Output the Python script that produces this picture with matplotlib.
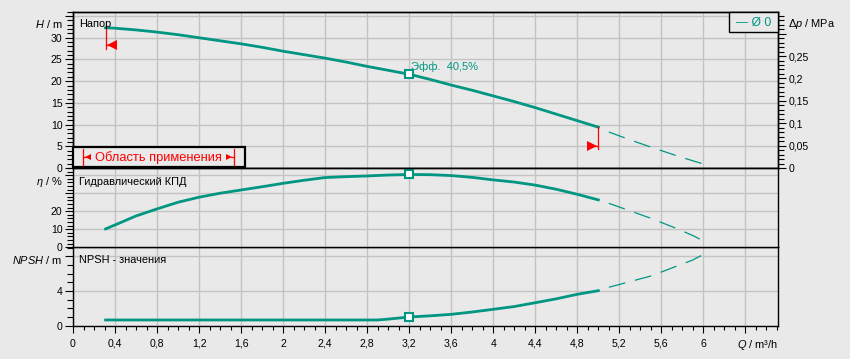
import matplotlib
matplotlib.use('Agg')
import matplotlib.pyplot as plt
from matplotlib.ticker import MultipleLocator, FuncFormatter
from matplotlib.lines import Line2D
from matplotlib.patches import Rectangle

plt.rcParams['font.family'] = ['Liberation Sans', 'DejaVu Sans']
plt.rcParams['mathtext.fontset'] = 'custom'
plt.rcParams['mathtext.it'] = 'Liberation Sans:italic'
plt.rcParams['mathtext.rm'] = 'Liberation Sans'
plt.rcParams['lines.scale_dashes'] = False

# ---------------- data ----------------
q_main = [0.31, 0.4, 0.6, 0.8, 1.0, 1.2, 1.4, 1.6, 1.8, 2.0, 2.2, 2.4, 2.6, 2.8, 3.0,
          3.2, 3.4, 3.6, 3.8, 4.0, 4.2, 4.4, 4.6, 4.8, 5.0]
head = [32.3, 32.2, 31.8, 31.3, 30.7, 30.0, 29.3, 28.6, 27.8, 26.9, 26.1, 25.3, 24.4,
        23.4, 22.5, 21.6, 20.4, 19.1, 17.9, 16.6, 15.3, 13.9, 12.4, 10.9, 9.4]
eta = [10.2, 12.4, 17.4, 21.3, 25.0, 27.8, 30.0, 31.8, 33.6, 35.5, 37.2, 38.7, 39.2,
       39.6, 40.1, 40.4, 40.3, 39.8, 38.8, 37.4, 36.2, 34.5, 32.2, 29.4, 26.3]

q_head_ext = [5.0, 5.1, 5.3, 5.55, 5.8, 6.03]
head_ext = [9.4, 8.3, 6.5, 4.4, 2.4, 0.7]

q_eta_ext = [5.0, 5.1, 5.25, 5.5, 5.75, 5.9, 6.02]
eta_ext = [26.3, 24.4, 21.3, 16.1, 10.3, 6.5, 2.9]

q_npsh = [0.31, 2.9, 3.0, 3.2, 3.4, 3.6, 3.8, 4.0, 4.2, 4.4, 4.6, 4.8, 5.0]
npsh = [0.66, 0.66, 0.76, 1.0, 1.14, 1.31, 1.58, 1.89, 2.21, 2.65, 3.1, 3.62, 4.04]
q_npsh_ext = [5.0, 5.1, 5.5, 5.9, 6.0]
npsh_ext = [4.04, 4.43, 5.73, 7.58, 8.23]

q_bep = 3.2
bep_label = 'Эфф.  40,5%'

x_max = 6.71
h_max = 36
dp_max = 0.349
eta_max = 44
npsh_max = 9.04

# ---------------- style ----------------
W, H = 850, 359
BG = '#e9e9e9'
TEAL = '#009682'
GRID = '#c3c3c3'
RED = '#ff0000'
FS = 7.6
FT = 7.9

fig = plt.figure(figsize=(8.5, 3.59), dpi=100, facecolor=BG)


def fx(px):
    return px / W


def fy(py):
    return 1 - py / H


L, R = 73, 778


def add_panel(top, bottom, sharex=None):
    return fig.add_axes([fx(L), fy(bottom), (R - L) / W, (bottom - top) / H],
                        sharex=sharex)


ax3 = add_panel(247.3, 325.7)
ax1 = add_panel(11.7, 168, sharex=ax3)
ax2 = add_panel(168, 247.3, sharex=ax3)


def comma(limit):
    def f(v, pos):
        if v > limit + 1e-9:
            return ''
        return f"{v:g}".replace('.', ',')
    return FuncFormatter(f)


for ax in (ax1, ax2, ax3):
    ax.set_facecolor(BG)
    ax.set_axisbelow(True)
    ax.grid(True, which='major', color=GRID, lw=1.0)
    for s in ax.spines.values():
        s.set_color('black')
        s.set_linewidth(1.0)
    ax.tick_params(axis='y', which='major', direction='out', length=6, width=0.8,
                   pad=1.5, labelsize=FS, colors='black')
    ax.tick_params(axis='y', which='minor', direction='out', length=4, width=0.8)

ax3.set_xlim(0, x_max)
ax3.xaxis.set_major_locator(MultipleLocator(0.4))
ax3.xaxis.set_minor_locator(MultipleLocator(0.1))
ax3.xaxis.set_major_formatter(comma(6.0))
ax3.tick_params(axis='x', which='major', direction='out', length=5, width=0.8,
                pad=4.5, labelsize=FS)
ax3.tick_params(axis='x', which='minor', direction='out', length=3, width=0.8)
for ax in (ax1, ax2):
    ax.tick_params(axis='x', which='both', bottom=False, labelbottom=False)

ax1.set_ylim(0, h_max)
ax1.yaxis.set_major_locator(MultipleLocator(5))
ax1.yaxis.set_minor_locator(MultipleLocator(1))
ax1.yaxis.set_major_formatter(comma(30))

ax2.set_ylim(0, eta_max)
ax2.yaxis.set_major_locator(MultipleLocator(10))
ax2.yaxis.set_minor_locator(MultipleLocator(2))
ax2.yaxis.set_major_formatter(comma(20))

ax3.set_ylim(0, npsh_max)
ax3.yaxis.set_major_locator(MultipleLocator(4))
ax3.yaxis.set_minor_locator(MultipleLocator(1))
ax3.yaxis.set_major_formatter(comma(4))

axr = ax1.twinx()
axr.set_ylim(0, dp_max)
axr.yaxis.set_major_locator(MultipleLocator(0.05))
axr.yaxis.set_minor_locator(MultipleLocator(0.01))
axr.yaxis.set_major_formatter(comma(0.26))
axr.tick_params(axis='y', which='major', direction='out', length=6, width=0.8,
                pad=2, labelsize=FS)
axr.tick_params(axis='y', which='minor', direction='out', length=4, width=0.8)
for s in axr.spines.values():
    s.set_linewidth(1.0)

# ---------------- curves ----------------
SOLID_LW = 2.0
DASH = (0, (12.2, 7.2))


def draw(ax, qs, ys, qe, ye):
    ax.plot(qs, ys, color=TEAL, lw=SOLID_LW, solid_joinstyle='round', zorder=3)
    ax.plot(qe[1:], ye[1:], color=TEAL, lw=0.9, linestyle=DASH, zorder=3)
    i = qs.index(q_bep)
    ax.plot([qs[i]], [ys[i]], marker='s', ms=6, mfc='white', mec=TEAL, mew=1.5,
            zorder=4, clip_on=False)


draw(ax1, q_main, head, q_head_ext, head_ext)
draw(ax2, q_main, eta, q_eta_ext, eta_ext)
draw(ax3, q_npsh, npsh, q_npsh_ext, npsh_ext)

# red range markers on head curve
q0, q1 = q_main[0], q_main[-1]
ax1.plot([q0, q0], [head[0] + 0.2, head[0] - 5.0], color=RED, lw=0.9, zorder=5)
ax1.plot([q0, q0 + 0.05], [head[0] - 4.0] * 2, color=RED, lw=0.9, zorder=5)
ax1.plot([q0 + 0.058], [head[0] - 4.0], marker='<', ms=7, color=RED, mew=0, zorder=5)
ax1.plot([q1, q1], [head[-1] + 0.1, head[-1] - 5.1], color=RED, lw=0.9, zorder=5)
ax1.plot([q1 - 0.05, q1], [head[-1] - 4.3] * 2, color=RED, lw=0.9, zorder=5)
ax1.plot([q1 - 0.058], [head[-1] - 4.3], marker='>', ms=7, color=RED, mew=0, zorder=5)

i_bep = q_main.index(q_bep)
ax1.annotate(bep_label, (q_bep, head[i_bep]), xytext=(1, 5.5), textcoords='offset points',
             color=TEAL, fontsize=8, ha='left', va='center')

# ---------------- texts ----------------
fig.text(fx(79.3), fy(24.3), 'Напор', fontsize=FT, va='center', ha='left')
fig.text(fx(79.3), fy(181.7), 'Гидравлический КПД', fontsize=FT, va='center', ha='left')
fig.text(fx(79.3), fy(260), 'NPSH - значения', fontsize=FT, va='center', ha='left')

fig.text(fx(62.5), fy(24.3), r'$\mathit{H}$ / m', fontsize=FT, va='center', ha='right')
fig.text(fx(63), fy(181.7), r'$\mathit{η}$ / %', fontsize=FT, va='center', ha='right')
fig.text(fx(62.5), fy(260), r'$\mathit{NPSH}$ / m', fontsize=FT, va='center', ha='right')
fig.text(fx(787.7), fy(24.3), r'$\mathit{Δp}$ / MPa', fontsize=FT, va='center', ha='left')
fig.text(fx(777.7), fy(345), r'$\mathit{Q}$ / m³/h', fontsize=FT, va='center', ha='right')

# legend box
fig.add_artist(Rectangle((fx(729.3), fy(32.3)), fx(777.7) - fx(729.3), fy(11.7) - fy(32.3),
                         transform=fig.transFigure, facecolor=BG, edgecolor='black',
                         lw=1.0, zorder=5))
fig.text(fx(753.5), fy(23.0), '— Ø 0', fontsize=8.7, color=TEAL, ha='center', va='center',
         zorder=6)

# application range box
fig.add_artist(Rectangle((fx(73), fy(167.3)), fx(245) - fx(73), fy(146.7) - fy(167.3),
                         transform=fig.transFigure, facecolor=BG, edgecolor='black',
                         lw=1.6, zorder=5))
for xb in (82.7, 234):
    fig.add_artist(Line2D([fx(xb), fx(xb)], [fy(149.3), fy(165)], transform=fig.transFigure,
                          color=RED, lw=0.9, zorder=6))
fig.add_artist(Line2D([fx(82.7), fx(86)], [fy(157.3)] * 2, transform=fig.transFigure,
                      color=RED, lw=0.9, zorder=6))
fig.add_artist(Line2D([fx(231), fx(234)], [fy(157.3)] * 2, transform=fig.transFigure,
                      color=RED, lw=0.9, zorder=6))
fig.add_artist(Line2D([fx(87.8)], [fy(157.3)], transform=fig.transFigure, marker='<', ms=4.5,
                      color=RED, mew=0, linestyle='none', zorder=6))
fig.add_artist(Line2D([fx(229.3)], [fy(157.3)], transform=fig.transFigure, marker='>', ms=4.5,
                      color=RED, mew=0, linestyle='none', zorder=6))
fig.text(fx(95), fy(157.3), 'Область применения', fontsize=9.3, color=RED, ha='left',
         va='center', zorder=6)

fig.savefig('out.png', dpi=100, facecolor=BG)
